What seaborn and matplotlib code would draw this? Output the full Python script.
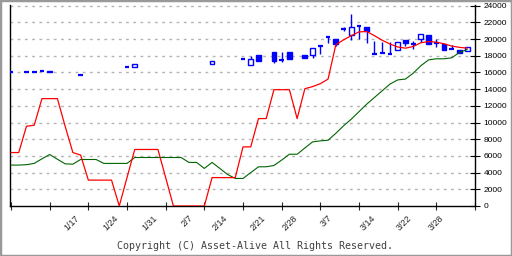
import numpy as np
import pandas as pd
import matplotlib
matplotlib.use("Agg")
import matplotlib.pyplot as plt
import seaborn as sns

# ---------------- data ----------------
days = list(range(60))
red_line = [6400, 6400, 9550, 9670, 12860, 12860, 12860, 9550, 6400, 6100,
            3100, 3100, 3100, 3100, 0, 3400, 6770, 6770, 6770, 6770,
            3400, 0, 0, 0, 0, 0, 3400, 3400, 3400, 3400,
            7080, 7080, 10470, 10470, 13930, 13930, 13930, 10470, 14050, 14300,
            14650, 15200, 19300, 19900, 20400, 20850, 20900, 20400, 19850, 19400,
            19050, 18900, 19100, 19550, 19700, 19620, 19430, 19150, 19000, 18900]
green_line = [4900, 4900, 4950, 5100, 5650, 6170, 5600, 5050, 5010, 5570,
              5570, 5570, 5100, 5100, 5100, 5100, 5810, 5810, 5810, 5810,
              5810, 5810, 5810, 5220, 5220, 4500, 5220, 4500, 3780, 3300,
              3300, 4000, 4690, 4700, 4850, 5500, 6200, 6200, 6950, 7680,
              7800, 7880, 8700, 9600, 10400, 11300, 12200, 13000, 13800, 14600,
              15100, 15200, 15900, 16800, 17500, 17630, 17630, 17750, 18400, 18750]

candle_day = [0, 2, 3, 4, 5, 9, 15, 16, 26, 30, 31, 32, 34, 35, 36, 38, 39, 40, 41,
              42, 43, 44, 45, 46, 47, 48, 49, 50, 51, 52, 53, 54, 55, 56, 57, 58, 59]
candle_open = [16080, 16080, 16080, 16200, 16120, 15720, 16680, 16630, 16950, 17630,
               16830, 18030, 18430, 17430, 18430, 18030, 18030, 19220, 20240,
               20030, 21220, 20500, 21530, 21450, 18230, 18370, 18230, 18700, 19920,
               19400, 20030, 20510, 19540, 19430, 18750, 18630, 18540]
candle_close = [16080, 16080, 16080, 16200, 16000, 15720, 16680, 16950, 17400, 17630,
                17550, 17350, 17350, 17430, 17550, 17710, 18910, 19220, 20240,
                19430, 21220, 21430, 21530, 20980, 18230, 18370, 18230, 19650, 19480,
                19400, 20620, 19430, 19540, 18630, 18750, 18350, 19020]
candle_high = [16080, 16080, 16080, 16200, 16120, 15720, 16680, 16950, 17400, 17630,
               17950, 18030, 18430, 18430, 18430, 18030, 18910, 19220, 20240,
               20030, 21400, 23000, 21530, 21450, 19820, 19620, 19620, 19650, 19920,
               19820, 20620, 20510, 20030, 19430, 19340, 18630, 19020]
candle_low = [16080, 16080, 16080, 16200, 16000, 15720, 16680, 16630, 16950, 17630,
              16830, 17350, 17150, 17230, 17550, 17710, 17750, 18150, 19540,
              19220, 20980, 19900, 20030, 19540, 18230, 18370, 18230, 18630, 19220,
              18750, 19620, 19430, 19020, 18630, 18750, 18350, 18540]

y_ticks = list(range(0, 24001, 2000))
x_major = list(range(0, 61, 5))
x_label_pos = [7.85, 12.9, 17.94, 22.75, 26.97, 32.0, 36.06, 40.74, 46.14, 50.88, 54.93]
x_labels = ["1/17", "1/24", "1/31", "2/7", "2/14", "2/21", "2/28", "3/7", "3/14", "3/22", "3/28"]
copyright_text = "Copyright (C) Asset-Alive All Rights Reserved."

# ---------------- style ----------------
sns.set_style("white")
plt.rcParams['font.family'] = ['Liberation Sans', 'DejaVu Sans']

fig = plt.figure(figsize=(5.12, 2.56), dpi=100)
fig.patch.set_facecolor("white")
ax = fig.add_axes([10 / 512, 1 - 206 / 256, 465 / 512, 201 / 256])
ax.set_facecolor("white")

ax.set_xlim(-0.13, 60.0)
ax.set_ylim(0, 24072)

# grid
for v in y_ticks[1:]:
    ax.axhline(v, color="#b4b4b4", lw=1.0, linestyle=(0, (2, 3.2)), zorder=0.5)

# candles
blue = "#0000ff"
bw = 0.62
for d, o, h, l, c in zip(candle_day, candle_open, candle_high, candle_low, candle_close):
    top, bot = max(o, c), min(o, c)
    if h > top:
        ax.vlines(d, top, h, color=blue, lw=1.0, zorder=2)
    if l < bot:
        ax.vlines(d, l, bot, color=blue, lw=1.0, zorder=2)
    if o == c:
        ax.hlines(o, d - bw / 2, d + bw / 2, color=blue, lw=1.6, zorder=3)
    else:
        fc = "white" if c > o else blue
        ax.bar(d, top - bot, bottom=bot, width=bw, facecolor=fc,
               edgecolor=blue, linewidth=1.0, zorder=3)

# moving lines
df = pd.DataFrame({"day": days, "red": red_line, "green": green_line})
sns.lineplot(data=df, x="day", y="green", color="#006400", lw=0.8, ax=ax, zorder=4)
sns.lineplot(data=df, x="day", y="red", color="#ff0000", lw=0.9, ax=ax, zorder=5)
ax.set_xlabel("")
ax.set_ylabel("")

# spines
for s in ["left", "bottom", "right"]:
    ax.spines[s].set_visible(True)
    ax.spines[s].set_color("black")
    ax.spines[s].set_linewidth(1.0)
ax.spines["top"].set_visible(False)

# y axis on right
ax.yaxis.tick_right()
ax.set_yticks(y_ticks)
ax.set_yticklabels([str(v) for v in y_ticks])
ax.tick_params(axis="y", direction="inout", length=7, width=0.8, pad=2.5,
               labelsize=6, colors="black", right=True, left=False)

# x axis
ax.set_xticks(x_major)
ax.set_xticklabels([""] * len(x_major))
ax.set_xticks(x_label_pos, minor=True)
ax.set_xticklabels(x_labels, minor=True, rotation=45, ha="center", va="top", fontsize=6.5)
ax.tick_params(axis="x", which="major", direction="inout", length=6, width=0.8, bottom=True)
ax.tick_params(axis="x", which="minor", length=0, pad=5.5)

fig.text(255 / 512, 1 - 246 / 256, copyright_text, ha="center", va="center",
         family="DejaVu Sans Mono", fontsize=7.2, color="#404040")

fig.add_artist(plt.Rectangle((0, 0), 1, 1, transform=fig.transFigure, fill=False,
                             edgecolor="#999999", linewidth=2.5))

fig.savefig("out.png", dpi=100, facecolor="white")
